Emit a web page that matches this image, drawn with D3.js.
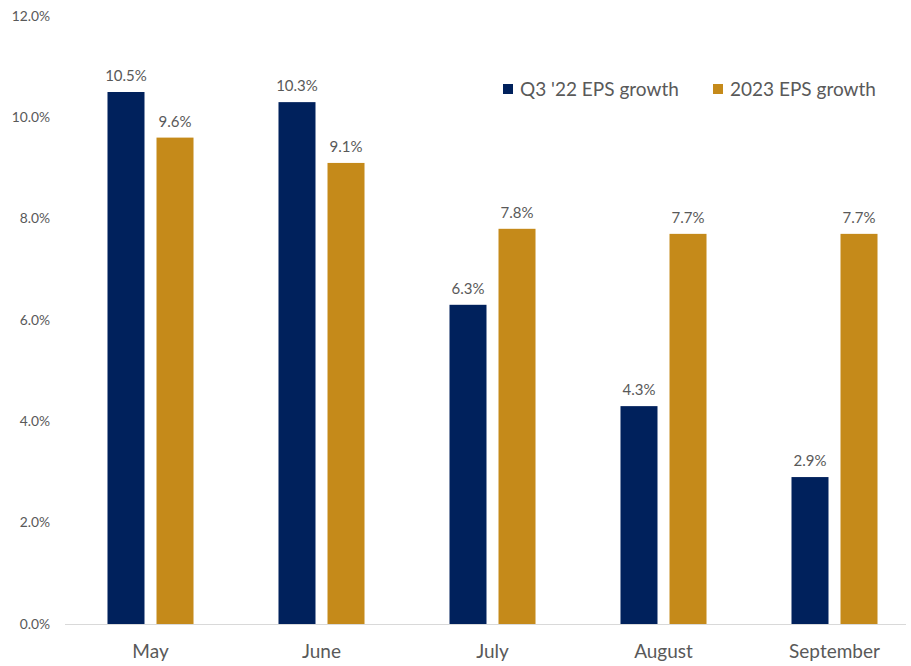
<!DOCTYPE html>
<html>
<head>
<meta charset="utf-8">
<script src="https://cdn.jsdelivr.net/npm/d3@7.9.0/dist/d3.min.js"></script>
<style>
  body { margin: 0; background: #fff; }
  text { font-family: Lato, "Open Sans", sans-serif; fill: #595959; }
</style>
</head>
<body>
<svg id="chart" width="911" height="666"></svg>
<script>
const months = ['May', 'June', 'July', 'August', 'September'];
const q3Growth = [10.5, 10.3, 6.3, 4.3, 2.9];
const fyGrowth = [9.6, 9.1, 7.8, 7.7, 7.7];
const seriesNames = ["Q3 '22 EPS growth", '2023 EPS growth'];
const yTicks = [0, 2, 4, 6, 8, 10, 12];

const colors = ['#00215c', '#c58a1a'];
const svg = d3.select('#chart');

const y = d3.scaleLinear().domain([0, 12]).range([624, 16]);
const x0 = d3.scaleBand().domain(months).range([65, 920]).paddingInner(0.497).paddingOuter(0.2485);
const x1 = d3.scaleBand().domain([0, 1]).range([0, x0.bandwidth()]).paddingInner(0.245);

// y tick labels
svg.append('g')
  .selectAll('text')
  .data(yTicks)
  .join('text')
  .attr('x', 50)
  .attr('y', (d) => y(d))
  .attr('dy', '0.35em')
  .attr('text-anchor', 'end')
  .attr('font-size', 13.8)
  .text((d) => d.toFixed(1) + '%');

// baseline
svg.append('line')
  .attr('x1', 65).attr('x2', 906)
  .attr('y1', y(0) + 0.5).attr('y2', y(0) + 0.5)
  .attr('stroke', '#d9d9d9')
  .attr('stroke-width', 1.2);

const rows = months.map((m, i) => ({ month: m, values: [q3Growth[i], fyGrowth[i]] }));

const groups = svg.append('g')
  .selectAll('g')
  .data(rows)
  .join('g')
  .attr('transform', (d) => `translate(${x0(d.month)},0)`);

groups.selectAll('rect')
  .data((d) => d.values)
  .join('rect')
  .attr('x', (d, i) => x1(i))
  .attr('width', x1.bandwidth())
  .attr('y', (d) => y(d))
  .attr('height', (d) => y(0) - y(d))
  .attr('fill', (d, i) => colors[i]);

groups.selectAll('text')
  .data((d) => d.values)
  .join('text')
  .attr('x', (d, i) => x1(i) + x1.bandwidth() / 2)
  .attr('y', (d) => y(d) - 11)
  .attr('text-anchor', 'middle')
  .attr('font-size', 15)
  .text((d) => d.toFixed(1) + '%');

// category labels
svg.append('g')
  .selectAll('text')
  .data(months)
  .join('text')
  .attr('x', (d) => x0(d) + x0.bandwidth() / 2)
  .attr('y', 651)
  .attr('dy', '0.35em')
  .attr('text-anchor', 'middle')
  .attr('font-size', 19)
  .text((d) => d);

// legend
const legendX = [503, 713];
const legend = svg.append('g')
  .selectAll('g')
  .data(seriesNames)
  .join('g')
  .attr('transform', (d, i) => `translate(${legendX[i]},89)`);

legend.append('rect')
  .attr('x', 0).attr('y', -5)
  .attr('width', 10).attr('height', 10)
  .attr('fill', (d, i) => colors[i]);

legend.append('text')
  .attr('x', 17)
  .attr('dy', '0.35em')
  .attr('font-size', 19)
  .text((d) => d);
</script>
</body>
</html>
